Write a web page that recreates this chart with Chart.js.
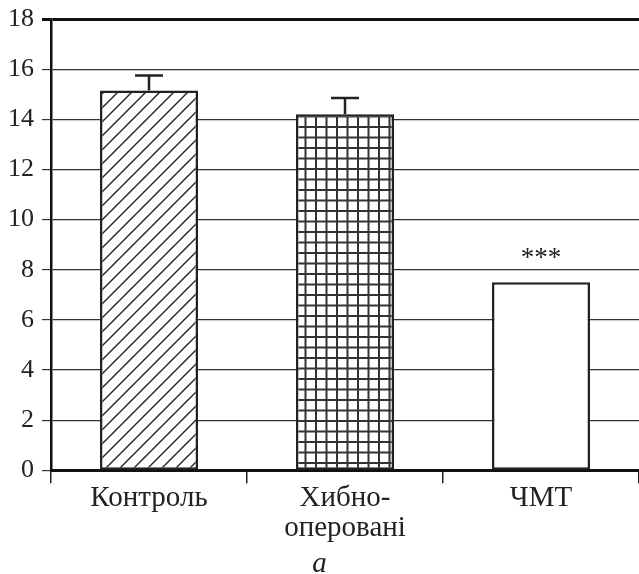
<!DOCTYPE html>
<html>
<head>
<meta charset="utf-8">
<script src="https://cdn.jsdelivr.net/npm/chart.js@4.4.1/dist/chart.umd.min.js"></script>
<style>
  html, body { margin: 0; padding: 0; background: #fff; }
  #wrap { width: 639px; height: 574px; }
</style>
</head>
<body>
<div id="wrap"><canvas id="chart"></canvas></div>
<script>
const categories = ["Контроль", ["Хибно-", "оперовані"], "ЧМТ"];
const values = [15.15, 14.2, 7.5];
const errors = [0.6, 0.65, 0];
const marks = ["", "", "***"];
const yMin = 0;
const yMax = 18;
const yStep = 2;

const FONT = "'Liberation Serif', 'Times New Roman', serif";
const INK = "#222";

function diagonalPattern() {
  const c = document.createElement("canvas");
  c.width = 14;
  c.height = 14;
  const g = c.getContext("2d");
  g.fillStyle = "#fff";
  g.fillRect(0, 0, 14, 14);
  g.strokeStyle = INK;
  g.lineWidth = 1.4;
  g.beginPath();
  g.moveTo(-7, 7); g.lineTo(7, -7);
  g.moveTo(0, 14); g.lineTo(14, 0);
  g.moveTo(7, 21); g.lineTo(21, 7);
  g.stroke();
  return g.createPattern(c, "repeat");
}

function gridPattern() {
  const c = document.createElement("canvas");
  c.width = 21;
  c.height = 21;
  const g = c.getContext("2d");
  g.fillStyle = "#fff";
  g.fillRect(0, 0, 21, 21);
  g.strokeStyle = "#333";
  g.lineWidth = 2;
  g.beginPath();
  [1, 11.5].forEach((p) => {
    g.moveTo(p, 0); g.lineTo(p, 21);
    g.moveTo(0, p); g.lineTo(21, p);
  });
  g.stroke();
  return g.createPattern(c, "repeat");
}

const errorBars = {
  id: "errorBars",
  afterDatasetsDraw(chart) {
    const { ctx } = chart;
    const y = chart.scales.y;
    const meta = chart.getDatasetMeta(0);
    ctx.save();
    ctx.strokeStyle = INK;
    ctx.lineWidth = 2.5;
    meta.data.forEach((bar, i) => {
      const top = y.getPixelForValue(values[i] + errors[i]);
      if (errors[i] > 0) {
        ctx.beginPath();
        ctx.moveTo(bar.x, bar.y);
        ctx.lineTo(bar.x, top);
        ctx.moveTo(bar.x - 14, top);
        ctx.lineTo(bar.x + 14, top);
        ctx.stroke();
      }
      if (marks[i]) {
        ctx.fillStyle = INK;
        ctx.font = "27px " + FONT;
        ctx.textAlign = "center";
        ctx.textBaseline = "alphabetic";
        ctx.fillText(marks[i], bar.x, top - 16);
      }
    });
    ctx.restore();
  },
};

new Chart(document.getElementById("chart"), {
  type: "bar",
  data: {
    labels: categories,
    datasets: [
      {
        data: values,
        backgroundColor: [diagonalPattern(), gridPattern(), "#fff"],
        borderColor: INK,
        borderWidth: 2.5,
        borderSkipped: false,
        barPercentage: 0.5,
        categoryPercentage: 1,
      },
    ],
  },
  options: {
    responsive: true,
    maintainAspectRatio: false,
    animation: false,
    layout: { padding: { left: 0, top: 0, right: 0, bottom: 0 } },
    plugins: {
      legend: { display: false },
      tooltip: { enabled: false },
      title: {
        display: true,
        position: "bottom",
        text: "a",
        color: INK,
        font: { family: FONT, size: 29, style: "italic", weight: "normal", lineHeight: 1 },
        padding: { top: 7, bottom: -5 },
      },
    },
    scales: {
      x: {
        grid: {
          offset: true,
          drawOnChartArea: false,
          drawTicks: true,
          tickLength: 13,
          color: INK,
          lineWidth: 1.5,
        },
        border: { color: "#111", width: 3 },
        ticks: {
          color: INK,
          padding: 0,
          maxRotation: 0,
          font: { family: FONT, size: 29, lineHeight: 1.03 },
        },
      },
      y: {
        min: yMin,
        max: yMax,
        ticks: {
          stepSize: yStep,
          color: INK,
          padding: 8,
          font: { family: FONT, size: 26, lineHeight: 0.85 },
        },
        grid: {
          color: (c) => (c.tick && c.tick.value === yMax ? "#111" : "#333"),
          lineWidth: (c) => (c.tick && c.tick.value === yMax ? 3 : 1.2),
          tickLength: 9,
        },
        border: { color: "#111", width: 2.5 },
      },
    },
  },
  plugins: [errorBars],
});
</script>
</body>
</html>
